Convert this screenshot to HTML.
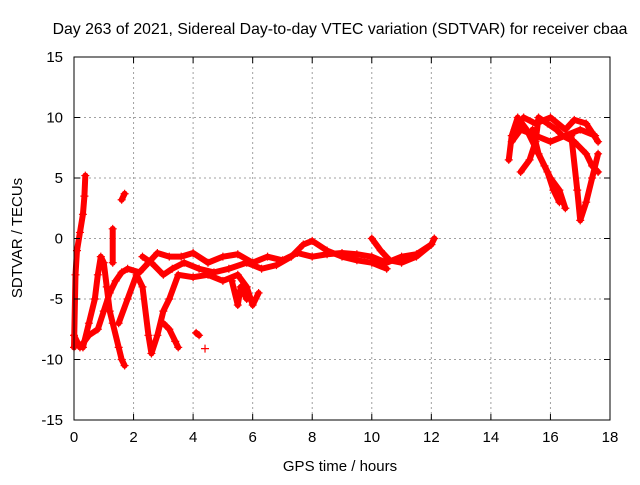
<!DOCTYPE html>
<html><head><meta charset="utf-8"><style>
body{margin:0;background:#fff}
svg text{font-family:"Liberation Sans",sans-serif;font-size:15px;fill:#000}
</style></head><body>
<svg id="chart" width="640" height="480" xmlns="http://www.w3.org/2000/svg">
<text x="340" y="34" text-anchor="middle" style="font-size:15.8px">Day 263 of 2021, Sidereal Day-to-day VTEC variation (SDTVAR) for receiver cbaa</text>
<text transform="translate(22,238) rotate(-90)" text-anchor="middle">SDTVAR / TECUs</text>
<text x="340" y="471" text-anchor="middle">GPS time / hours</text>
<g id="grid"></g><g id="marks"></g><g id="axes"></g>
</svg>
<script>
const xTicks=[0,2,4,6,8,10,12,14,16,18];
const yTicks=[-15,-10,-5,0,5,10,15];
const trackA=[[0,-9],[0.05,-3],[0.1,-1],[0.2,0.5],[0.3,2],[0.35,3.5],[0.38,5.2]];
const trackB=[[0,-8],[0.2,-9],[0.5,-8],[0.8,-7.5],[1.0,-6],[1.2,-4.5],[1.4,-3.5],[1.6,-2.8],[1.8,-2.5],[2.2,-2.8],[2.5,-2],[2.8,-1.2],[3.2,-1.5],[3.6,-1.5],[4.0,-1.2],[4.5,-2],[5,-1.5],[5.5,-1.3],[6,-2],[6.5,-1.5],[7,-1.8],[7.5,-1.2],[8,-1.5],[8.5,-1.3],[9,-1.2],[9.5,-1.3],[10,-1.5],[10.5,-2],[11,-1.5],[11.5,-1.3],[12,-0.5],[12.1,0]];
const trackC=[[0.3,-9],[0.5,-7],[0.7,-5],[0.8,-3],[0.9,-1.5],[1.0,-2],[1.1,-4],[1.2,-6],[1.3,-7],[1.5,-9],[1.6,-10],[1.7,-10.5]];
const trackD=[[1.5,-7],[1.8,-5],[2.1,-3],[2.3,-4],[2.5,-8],[2.6,-9.5],[2.8,-8],[3,-6],[3.2,-5],[3.5,-3],[4,-3.2],[4.5,-3],[5,-3.5],[5.5,-3],[5.8,-4],[6,-5.5],[6.2,-4.5]];
const trackE=[[2.3,-1.5],[2.6,-2],[3,-3],[3.3,-2.5],[3.7,-2],[4.2,-2.5],[4.7,-2.8],[5.2,-2.5],[5.8,-2],[6.3,-2.5],[6.8,-2.2],[7.3,-1.5],[7.7,-0.5],[8,-0.2],[8.5,-1],[9,-1.5],[9.5,-1.8],[10,-2],[10.5,-2.5]];
const trackF=[[3,-7],[3.2,-7.5],[3.4,-8.5],[3.5,-9]];
const trackG=[[4.1,-7.8],[4.2,-8]];
const trackG2=[[4.4,-9.1]];
const trackH=[[1.6,3.2],[1.7,3.7]];
const trackH2=[[1.3,0.8],[1.3,-2]];
const trackI=[[10,0],[10.3,-1],[10.6,-1.8],[11,-2],[11.5,-1.5],[12,-0.5]];
const trackJ=[[5.3,-3.5],[5.5,-5.5],[5.6,-4],[5.8,-5]];
const trackK=[[14.6,6.5],[14.7,8.5],[14.9,10],[15.2,9],[15.5,7.5],[15.8,6],[16,5],[16.3,4],[16.5,2.5]];
const trackL=[[15,5.5],[15.3,6.5],[15.5,8],[15.6,10],[15.9,9.5],[16.2,9],[16.4,8.5],[16.8,8],[17.2,7],[17.4,6],[17.6,5.5]];
const trackM=[[14.8,9],[15.1,10],[15.5,9.5],[16,10],[16.5,9],[16.8,9.8],[17.2,9.5],[17.6,8]];
const trackN=[[15.4,9],[15.6,7],[15.9,5.5],[16.1,4],[16.3,3]];
const trackO=[[16.7,8.5],[16.9,4],[17,1.5],[17.2,3],[17.4,5],[17.6,7]];
const trackP=[[14.7,8],[15,9],[15.5,8.5],[16,8],[16.5,8.5],[17,9],[17.5,8.5]];
const tracks=[trackA,trackB,trackC,trackD,trackE,trackF,trackG,trackG2,trackH,trackH2,trackI,trackJ,trackK,trackL,trackM,trackN,trackO,trackP];

const X0=74,X1=610,Y0=420,Y1=57;
const sx=v=>X0+(v-0)/(18-0)*(X1-X0);
const sy=v=>Y0-(v+15)/30*(Y0-Y1);
const NS="http://www.w3.org/2000/svg";
function mk(tag,attrs,parent){const e=document.createElementNS(NS,tag);for(const k in attrs)e.setAttribute(k,attrs[k]);parent.appendChild(e);return e;}
const grid=document.getElementById('grid'),axes=document.getElementById('axes'),marks=document.getElementById('marks');
xTicks.forEach(t=>{
  const x=sx(t);
  if(t>0&&t<18){const g=mk('line',{x1:x,x2:x,y1:Y1,y2:Y0,stroke:'#a0a0a0','stroke-dasharray':'2,3'},grid);
  
  }
  mk('line',{x1:x,x2:x,y1:Y0,y2:Y0-6,stroke:'#000'},axes);
  mk('line',{x1:x,x2:x,y1:Y1,y2:Y1+6,stroke:'#000'},axes);
  const l=mk('text',{x:x,y:Y0+22,'text-anchor':'middle'},axes);l.textContent=t;
  
  
});
yTicks.forEach(t=>{
  const y=sy(t);
  if(t>-15&&t<15){const g=mk('line',{x1:X0,x2:X1,y1:y,y2:y,stroke:'#a0a0a0','stroke-dasharray':'2,3'},grid);
  
  }
  mk('line',{x1:X0,x2:X0+6,y1:y,y2:y,stroke:'#000'},axes);
  mk('line',{x1:X1,x2:X1-6,y1:y,y2:y,stroke:'#000'},axes);
  const l=mk('text',{x:X0-11,y:y+5,'text-anchor':'end'},axes);l.textContent=t;
  
  
});
const frame=mk('rect',{x:X0,y:Y1,width:X1-X0,height:Y0-Y1,fill:'none',stroke:'#000'},axes);


tracks.forEach(tr=>{
  const pl=mk('polyline',{points:tr.map(p=>sx(p[0])+','+sy(p[1])).join(' '),fill:'none',stroke:'#f00','stroke-width':6,'stroke-linejoin':'round','stroke-linecap':'round'},marks);
  
  
  tr.forEach(p=>{
    const x=sx(p[0]),y=sy(p[1]);
    const m=mk('path',{d:`M${x-4},${y}H${x+4}M${x},${y-4}V${y+4}`,stroke:'#f00','stroke-width':1.2},marks);
    
    
  });
});
</script>
</body></html>
